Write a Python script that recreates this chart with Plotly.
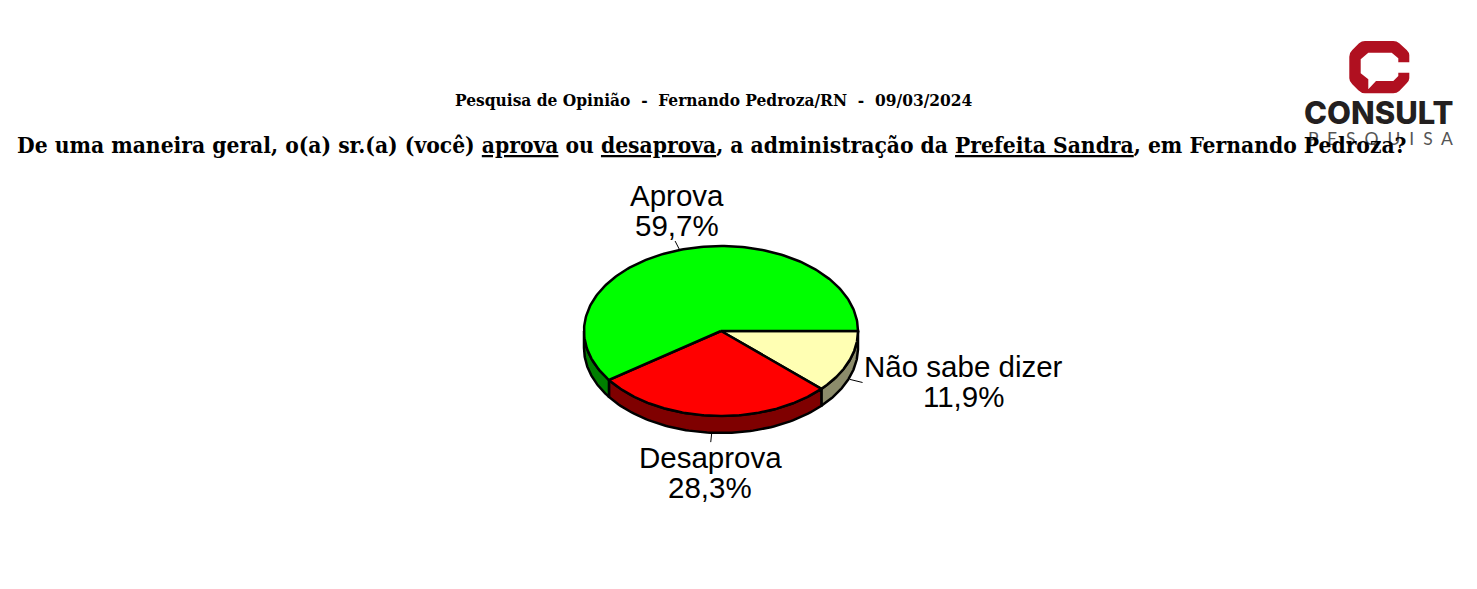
import numpy as np
import plotly.graph_objects as go

# ---- data, clockwise from 3 o'clock
categories = ["Não sabe dizer", "Desaprova", "Aprova"]
values = [11.9, 28.3, 59.7]
value_labels = ["11,9%", "28,3%", "59,7%"]

top_colors = ["#FFFFB3", "#FF0000", "#00FF00"]
side_colors = ["#8C8C6B", "#7F0000", "#007F00"]

W, H = 1477, 589
CX, CY, RX, RY, DEPTH = 721, 331, 137, 85, 17
SANS = "Liberation Sans"
SERIF = "DejaVu Serif Condensed"

total = sum(values)
cum = np.cumsum([0] + values) / total * 2 * np.pi


def ell(t, dy=0.0, k=1.0):
    return CX + k * RX * np.cos(t), CY + dy + k * RY * np.sin(t)


fig = go.Figure()
LINE = dict(color="#000000", width=2.5)

# side walls (only the front half of the ellipse is visible)
for i in range(len(values)):
    a, b = cum[i], min(cum[i + 1], np.pi)
    if a >= np.pi:
        continue
    t = np.linspace(a, b, 80)
    x1, y1 = ell(t)
    x2, y2 = ell(t[::-1], DEPTH)
    fig.add_trace(go.Scatter(
        x=np.r_[x1, x2, x1[0]], y=np.r_[y1, y2, y1[0]], mode="lines",
        fill="toself", fillcolor=side_colors[i], line=LINE,
        hoverinfo="skip", showlegend=False))

# top slices
for i in range(len(values)):
    t = np.linspace(cum[i], cum[i + 1], 200)
    x, y = ell(t)
    fig.add_trace(go.Scatter(
        x=np.r_[CX, x, CX], y=np.r_[CY, y, CY], mode="lines",
        fill="toself", fillcolor=top_colors[i], line=LINE,
        name=categories[i], text=[f"{categories[i]} {value_labels[i]}"] * (len(t) + 2),
        hoverinfo="text", showlegend=False))

# leader lines at each slice's mid-angle
for i in range(len(values)):
    m = (cum[i] + cum[i + 1]) / 2
    dy = DEPTH if 0 < m < np.pi else 0
    x0, y0 = ell(m, dy, 1.01)
    x1, y1 = ell(m, dy, 1.11)
    fig.add_trace(go.Scatter(x=[x0, x1], y=[y0, y1], mode="lines",
                             line=dict(color="#000000", width=1),
                             hoverinfo="skip", showlegend=False))

anns = []


def txt(x, y, s, size, family, color="#000000", anchor="center", weight=None):
    font = dict(size=size, family=family, color=color)
    if weight:
        font["weight"] = weight
    anns.append(dict(x=x, y=y, xref="x", yref="y", text=s, showarrow=False,
                     xanchor=anchor, yanchor="middle", font=font))


# slice labels, one annotation per line for tight line spacing
label_pos = {0: (963, 366, 396), 1: (710, 457, 487), 2: (677, 195, 225)}
for i, (lx, ly1, ly2) in label_pos.items():
    txt(lx, ly1, categories[i], 29.5, SANS)
    txt(lx, ly2, value_labels[i], 29.5, SANS)

# logo wordmark (behind the title)
txt(1379, 112, "CONSULT", 31, "Inter", "#231F20", weight=800)
txt(1380, 138, "P  E  S  Q  U  I  S  A", 17.5, "Lato", "#555555")

# titles
txt(714, 100, "<b>Pesquisa de Opinião  -  Fernando Pedroza/RN  -  09/03/2024</b>", 17.2, SERIF)
txt(712, 145, "<b>De uma maneira geral, o(a) sr.(a) (você) <u>aprova</u> ou <u>desaprova</u>, "
              "a administração da <u>Prefeita Sandra</u>, em Fernando Pedroza?</b>", 22.6, SERIF)


# logo mark: zoomed-crop coordinates mapped to the page
def p(zx, zy):
    return f"{1290 + zx / 3:.1f},{30 + zy / 3:.1f}"


logo = ("M" + p(358, 97) + " L" + p(358, 75) + " Q" + p(358, 68) + " " + p(350, 60) +
        " L" + p(328, 40) + " Q" + p(320, 33) + " " + p(310, 33) + " L" + p(225, 33) +
        " Q" + p(215, 33) + " " + p(207, 40) + " L" + p(187, 60) + " Q" + p(178, 68) + " " + p(178, 80) +
        " L" + p(178, 145) + " Q" + p(178, 155) + " " + p(187, 163) + " L" + p(205, 181) +
        " Q" + p(214, 190) + " " + p(225, 190) + " L" + p(310, 190) + " Q" + p(320, 190) + " " + p(328, 183) +
        " L" + p(350, 160) + " Q" + p(358, 152) + " " + p(358, 145) + " L" + p(358, 128) +
        " L" + p(325, 128) + " L" + p(325, 138) + " L" + p(310, 153) + " L" + p(258, 153) +
        " L" + p(235, 178) + " L" + p(235, 148) + " L" + p(212, 130) + " L" + p(212, 88) +
        " L" + p(235, 68) + " L" + p(305, 68) + " L" + p(325, 85) + " L" + p(325, 97) + " Z")

fig.update_layout(
    width=W, height=H, margin=dict(l=0, r=0, t=0, b=0),
    paper_bgcolor="#FFFFFF", plot_bgcolor="#FFFFFF", showlegend=False,
    xaxis=dict(range=[0, W], visible=False, fixedrange=True),
    yaxis=dict(range=[H, 0], visible=False, fixedrange=True),
    annotations=anns,
    shapes=[dict(type="path", path=logo, xref="x", yref="y",
                 fillcolor="#B01020", line=dict(width=0), layer="below")],
)

fig.write_html("out.html", post_script="document.body.style.margin='0';",
               config={"displayModeBar": False})
